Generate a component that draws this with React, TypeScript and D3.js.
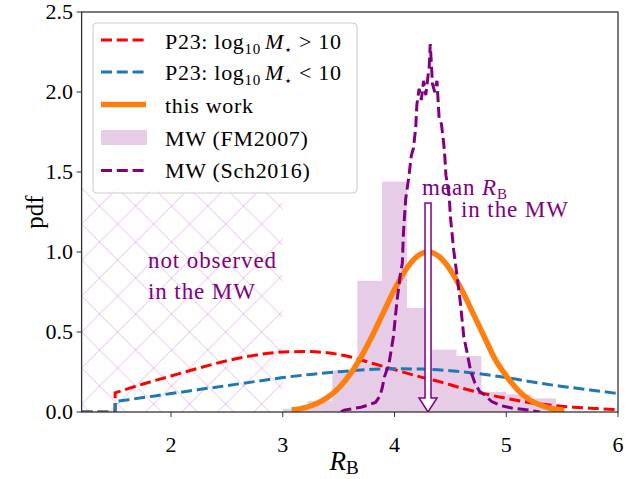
import * as d3 from 'd3'

// P23, log10 M* > 10 (red dashed)
const p23HighX = [1.5, 1.75, 2.0, 2.25, 2.5, 2.75, 3.0, 3.2, 3.4, 3.6, 3.8, 4.0, 4.2, 4.4, 4.6, 4.8, 5.0, 5.2, 5.4, 5.6, 5.8, 6.0]
const p23HighPdf = [0.12, 0.175, 0.225, 0.275, 0.32, 0.355, 0.375, 0.378, 0.37, 0.345, 0.305, 0.265, 0.225, 0.19, 0.15, 0.115, 0.085, 0.06, 0.042, 0.03, 0.022, 0.015]

// P23, log10 M* < 10 (blue dashed)
const p23LowX = [1.5, 1.75, 2.0, 2.25, 2.5, 2.75, 3.0, 3.25, 3.5, 3.75, 4.0, 4.25, 4.5, 4.75, 5.0, 5.25, 5.5, 5.75, 6.0]
const p23LowPdf = [0.065, 0.09, 0.115, 0.14, 0.165, 0.19, 0.215, 0.235, 0.252, 0.264, 0.27, 0.268, 0.258, 0.24, 0.215, 0.186, 0.16, 0.138, 0.115]

// this work (orange)
const thisX = [3.08, 3.2, 3.3, 3.4, 3.5, 3.6, 3.7, 3.8, 3.9, 4.0, 4.1, 4.2, 4.3, 4.4, 4.5, 4.6, 4.7, 4.8, 4.9, 5.0, 5.1, 5.2, 5.3, 5.4, 5.52]
const thisPdf = [0.012, 0.027, 0.051, 0.09, 0.149, 0.233, 0.343, 0.475, 0.621, 0.765, 0.888, 0.971, 1.0, 0.971, 0.888, 0.765, 0.621, 0.475, 0.33, 0.225, 0.14, 0.08, 0.045, 0.022, 0.01]

// MW histogram (FM2007)
const fmEdges = [3.0, 3.222, 3.444, 3.667, 3.889, 4.111, 4.333, 4.556, 4.778, 5.0, 5.222, 5.444]
const fmHeights = [0.02, 0.07, 0.26, 0.82, 1.44, 0.65, 0.39, 0.35, 0.125, 0.11, 0.085]

// MW (Sch2016) purple dashed
const schX = [3.52, 3.55, 3.62, 3.7, 3.77, 3.83, 3.87, 3.89, 3.91, 3.95, 3.99, 4.02, 4.05, 4.07, 4.08, 4.1, 4.13, 4.15, 4.17, 4.19, 4.2, 4.22, 4.24, 4.26, 4.28, 4.3, 4.31, 4.32, 4.34, 4.36, 4.38, 4.39, 4.4, 4.42, 4.44, 4.45, 4.46, 4.49, 4.5, 4.53, 4.56, 4.59, 4.62, 4.65, 4.68, 4.72, 4.76, 4.8, 4.87, 4.95, 5.05, 5.2, 5.3]
const schPdf = [0.0, 0.012, 0.02, 0.03, 0.045, 0.06, 0.1, 0.15, 0.22, 0.3, 0.47, 0.68, 0.85, 0.93, 1.12, 1.33, 1.48, 1.6, 1.65, 1.78, 1.92, 2.02, 1.95, 2.07, 1.98, 2.1, 2.15, 2.3, 2.05, 2.0, 2.07, 1.95, 1.83, 1.8, 1.68, 1.6, 1.48, 1.35, 1.22, 1.01, 0.85, 0.68, 0.47, 0.37, 0.26, 0.18, 0.13, 0.11, 0.065, 0.04, 0.025, 0.012, 0.0]

const xTicks = [2, 3, 4, 5, 6]
const yTicks = [0, 0.5, 1.0, 1.5, 2.0, 2.5]
const meanRB = 4.3

const W = 626
const H = 479
const FONT = 'Liberation Serif, Tinos, Times New Roman, DejaVu Serif, serif'
const PURPLE = '#800080'

export default function App() {
  const x = d3.scaleLinear().domain([1.2, 6]).range([81.6, 618])
  const y = d3.scaleLinear().domain([0, 2.5]).range([412, 12])

  const lin = d3.line<[number, number]>().x((d) => x(d[0])).y((d) => y(d[1]))
  const smooth = d3.line<[number, number]>().x((d) => x(d[0])).y((d) => y(d[1])).curve(d3.curveMonotoneX)

  // zero below 1.5, then jump up and follow the curve
  const p23Path = (xs: number[], ys: number[]) => {
    const head = lin([[1.2, 0], [xs[0], 0]]) as string
    const body = smooth(xs.map((v, i) => [v, ys[i]] as [number, number])) as string
    return head + body.replace(/^M/, 'L')
  }

  const thisPath = smooth(thisX.map((v, i) => [v, thisPdf[i]] as [number, number])) as string
  const schPath = lin(schX.map((v, i) => [v, schPdf[i]] as [number, number])) as string

  const ax = x(meanRB)
  const arrowTop = 203
  const arrowTip = y(0)
  const headH = 14
  const shaftW = 3
  const headW = 9
  const arrowPts = [
    [ax - shaftW, arrowTop],
    [ax + shaftW, arrowTop],
    [ax + shaftW, arrowTip - headH],
    [ax + headW, arrowTip - headH],
    [ax, arrowTip],
    [ax - headW, arrowTip - headH],
    [ax - shaftW, arrowTip - headH],
  ]

  const legendRows = [
    { kind: 'line', color: '#ff0000', dash: '11,4.8', width: 3 },
    { kind: 'line', color: '#1f77b4', dash: '11,4.8', width: 3 },
    { kind: 'line', color: '#ff7f0e', dash: '', width: 5.5 },
    { kind: 'patch', color: PURPLE, dash: '', width: 0 },
    { kind: 'line', color: PURPLE, dash: '11,4.8', width: 3 },
  ]
  const rowY = [40, 72, 104.5, 137.5, 170.5]

  return (
    <svg width={W} height={H} style={{ position: 'absolute', left: 0, top: 0, background: '#fff', fontFamily: FONT }}>
      <defs>
        <pattern id="hatch" width={36} height={36} patternUnits="userSpaceOnUse" x={x(1.2)} y={y(1.4)}>
          <line x1={-2} y1={-2} x2={38} y2={38} stroke="#e6bff0" strokeWidth={1} />
          <line x1={-2} y1={38} x2={38} y2={-2} stroke="#e6bff0" strokeWidth={1} />
        </pattern>
        <clipPath id="plot">
          <rect x={x(1.2)} y={y(2.5)} width={x(6) - x(1.2)} height={y(0) - y(2.5)} />
        </clipPath>
      </defs>

      <g clipPath="url(#plot)">
        {/* not observed region */}
        <rect x={x(1.2)} y={y(1.4)} width={x(3) - x(1.2)} height={y(0) - y(1.4)} fill="url(#hatch)" />

        {fmHeights.map((h, i) => (
          <rect
            key={i}
            x={x(fmEdges[i])}
            y={y(h)}
            width={x(fmEdges[i + 1]) - x(fmEdges[i])}
            height={y(0) - y(h)}
            fill={PURPLE}
            fillOpacity={0.2}
          />
        ))}

        <path d={p23Path(p23HighX, p23HighPdf)} fill="none" stroke="#ff0000" strokeWidth={3} strokeDasharray="11,4.8" />
        <path d={p23Path(p23LowX, p23LowPdf)} fill="none" stroke="#1f77b4" strokeWidth={3} strokeDasharray="11,4.8" />
        <path d={thisPath} fill="none" stroke="#ff7f0e" strokeWidth={5.5} />
        <path d={schPath} fill="none" stroke={PURPLE} strokeWidth={3} strokeDasharray="11,4.8" />

        <polygon points={arrowPts.map((p) => p.join(',')).join(' ')} fill="#fff" stroke={PURPLE} strokeWidth={1.5} />
      </g>

      {/* annotations */}
      <g fontSize={23} fill={PURPLE} letterSpacing={0.9}>
        <text x={148} y={268}>not observed</text>
        <text x={148} y={299}>in the MW</text>
        <text x={422} y={195}>
          mean <tspan fontStyle="italic">R</tspan>
          <tspan fontSize={15} dy={4}>B</tspan>
        </text>
        <text x={461} y={217}>in the MW</text>
      </g>

      {/* frame */}
      <rect x={x(1.2)} y={y(2.5)} width={x(6) - x(1.2)} height={y(0) - y(2.5)} fill="none" stroke="#333" strokeWidth={1.3} />

      {xTicks.map((t) => (
        <g key={t}>
          <line x1={x(t)} x2={x(t)} y1={y(0)} y2={y(0) + 5} stroke="#333" strokeWidth={1} />
          <text x={x(t)} y={452} fontSize={22} textAnchor="middle">{t}</text>
        </g>
      ))}
      {yTicks.map((t) => (
        <g key={t}>
          <line x1={x(1.2) - 5} x2={x(1.2)} y1={y(t)} y2={y(t)} stroke="#333" strokeWidth={1} />
          <text x={73} y={y(t) + 7} fontSize={22} textAnchor="end">{t.toFixed(1)}</text>
        </g>
      ))}

      <text x={344} y={470} fontSize={27} textAnchor="middle">
        <tspan fontStyle="italic">R</tspan>
        <tspan fontSize={19} dy={4}>B</tspan>
      </text>
      <text transform="translate(43,212) rotate(-90)" fontSize={25} textAnchor="middle">pdf</text>

      {/* legend */}
      <rect x={93} y={23} width={264} height={170} rx={4} fill="#fff" fillOpacity={0.8} stroke="#cccccc" strokeWidth={1} />
      {legendRows.map((r, i) =>
        r.kind === 'patch' ? (
          <rect key={i} x={101} y={rowY[i] - 7.5} width={46} height={15} fill={r.color} fillOpacity={0.2} />
        ) : (
          <line
            key={i}
            x1={101}
            x2={146}
            y1={rowY[i]}
            y2={rowY[i]}
            stroke={r.color}
            strokeWidth={r.width}
            strokeDasharray={r.dash || undefined}
          />
        )
      )}
      <g fontSize={22} letterSpacing={0.7}>
        <text x={165} y={49}>
          P23: log<tspan fontSize={15} dy={5}>10</tspan>
          <tspan fontStyle="italic" dy={-5} dx={4}>M</tspan>
          <tspan fontSize={13} dy={5}>⋆</tspan>
          <tspan dy={-5}> &gt; 10</tspan>
        </text>
        <text x={165} y={80}>
          P23: log<tspan fontSize={15} dy={5}>10</tspan>
          <tspan fontStyle="italic" dy={-5} dx={4}>M</tspan>
          <tspan fontSize={13} dy={5}>⋆</tspan>
          <tspan dy={-5}> &lt; 10</tspan>
        </text>
        <text x={165} y={113}>this work</text>
        <text x={165} y={146}>MW (FM2007)</text>
        <text x={165} y={178}>MW (Sch2016)</text>
      </g>
    </svg>
  )
}
